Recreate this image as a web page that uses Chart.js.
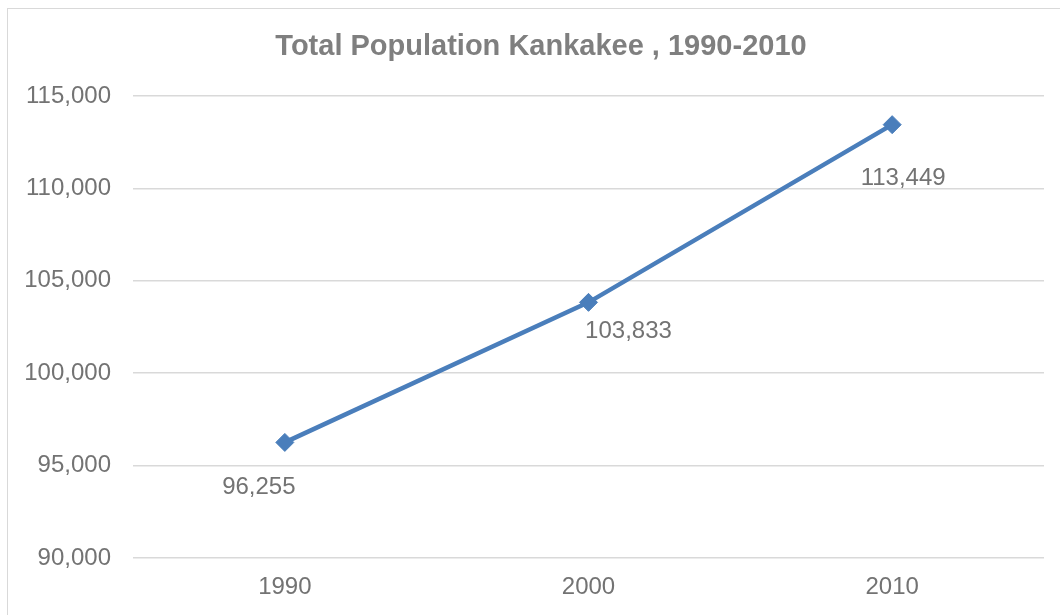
<!DOCTYPE html>
<html>
<head>
<meta charset="utf-8">
<script src="https://cdn.jsdelivr.net/npm/chart.js@4"></script>
<style>
  body { margin: 0; overflow: hidden; background: #fff; }
  #box { position: absolute; left: 7px; top: 8px; width: 1066px; height: 620px; border: 1.5px solid #d9d9d9; }
  canvas { position: absolute; left: 0; top: 0; }
</style>
</head>
<body>
<div id="box"><canvas id="chart" width="1066" height="620"></canvas></div>
<script>
const years = ["1990", "2000", "2010"];
const population = [96255, 103833, 113449];
const yTicks = [90000, 95000, 100000, 105000, 110000, 115000];
const titleText = "Total Population Kankakee , 1990-2010";

// where each value label sits relative to its point (px)
const labelOffsets = [[-26, 45], [40, 29], [11, 54]];

const fmt = v => v.toLocaleString("en-US");
const FONT = "'Liberation Sans', Arial, sans-serif";

// title centred on the whole chart box, not on the plot area
const chartTitle = {
  id: "chartTitle",
  afterDraw(chart) {
    const ctx = chart.ctx;
    ctx.save();
    ctx.font = "bold 29px " + FONT;
    ctx.fillStyle = "#7f7f7f";
    ctx.textAlign = "center";
    ctx.textBaseline = "middle";
    ctx.fillText(titleText, chart.width / 2, 38);
    ctx.restore();
  }
};

const valueLabels = {
  id: "valueLabels",
  afterDatasetsDraw(chart) {
    const ctx = chart.ctx;
    const meta = chart.getDatasetMeta(0);
    ctx.save();
    ctx.font = "24px " + FONT;
    ctx.fillStyle = "#737373";
    ctx.textAlign = "center";
    ctx.textBaseline = "middle";
    meta.data.forEach((pt, i) => {
      const [dx, dy] = labelOffsets[i];
      ctx.fillText(fmt(population[i]), pt.x + dx, pt.y + dy);
    });
    ctx.restore();
  }
};

new Chart(document.getElementById("chart"), {
  type: "line",
  data: {
    labels: years,
    datasets: [{
      data: population,
      borderColor: "#4a7ebb",
      backgroundColor: "#4a7ebb",
      borderWidth: 4.5,
      pointStyle: "rectRot",
      pointRadius: 9,
      pointBorderWidth: 1,
      tension: 0
    }]
  },
  options: {
    responsive: false,
    animation: false,
    layout: { padding: { left: 0, right: 30, top: 87, bottom: 0 } },
    plugins: {
      legend: { display: false },
      tooltip: { enabled: false },
      title: { display: false }
    },
    scales: {
      x: {
        offset: true,
        grid: { display: false, drawTicks: false },
        border: { display: false },
        ticks: {
          color: "#737373",
          padding: 15,
          font: { family: FONT, size: 24 }
        },
        afterFit: s => { s.height = 71; }
      },
      y: {
        min: yTicks[0],
        max: yTicks[yTicks.length - 1],
        afterBuildTicks: s => { s.ticks = yTicks.map(v => ({ value: v })); },
        grid: { color: "#d9d9d9", lineWidth: 1.5, drawTicks: false },
        border: { display: false },
        ticks: {
          color: "#737373",
          padding: 22,
          font: { family: FONT, size: 24 },
          callback: v => fmt(v)
        },
        afterFit: s => { s.width = 125; }
      }
    }
  },
  plugins: [valueLabels, chartTitle]
});
</script>
</body>
</html>
